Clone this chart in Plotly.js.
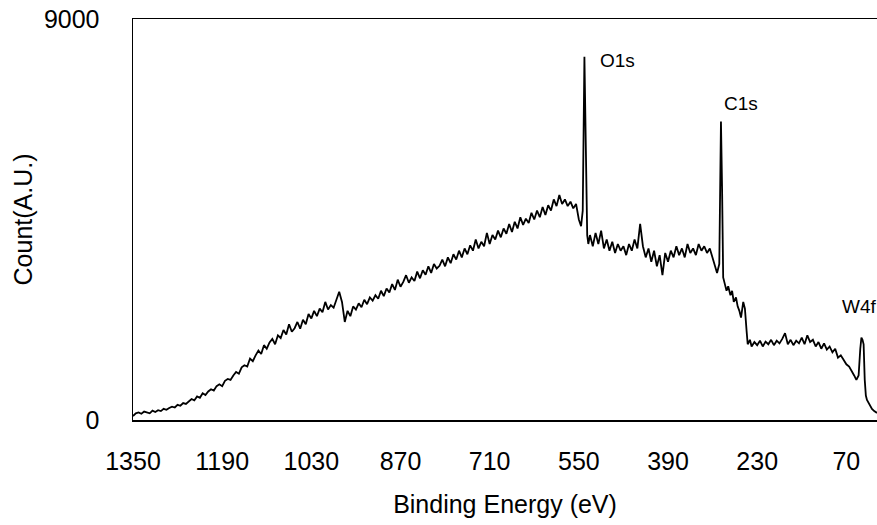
<!DOCTYPE html>
<html>
<head>
<meta charset="utf-8">
<script src="https://cdn.plot.ly/plotly-3.0.1.min.js"></script>
<style>html,body{margin:0;padding:0;background:#fff;}#chart{width:877px;height:525px;}</style>
</head>
<body>
<div id="chart"></div>
<script>
// Binding energy (eV) and counts, by region
const energyA = [1350,1345,1340,1335,1330,1325,1320,1315,1310,1305,1300,1295,1290,1285,1280,1275,1270,1265,1260,1255,1250,1245,1240,1235,1230,1225,1220,1215,1210,1205,1200];
const countsA = [90,150,170,140,190,170,150,210,180,220,200,250,230,270,300,280,340,320,380,360,420,470,440,530,500,600,560,640,690,660,760];

const energyB = [1195,1190,1185,1180,1175,1170,1165,1160,1155,1150,1145,1140,1135,1130,1125,1120,1115,1110,1105,1100,1095,1090,1085,1080,1075,1070,1065,1060,1055,1050,1045,1040,1035,1030,1025,1020,1015,1010,1005,1000];
const countsB = [800,760,880,920,900,1000,1080,1040,1180,1230,1200,1380,1320,1450,1560,1480,1680,1600,1740,1820,1700,1900,1840,2020,1920,2150,1980,2060,2200,2050,2250,2150,2380,2280,2450,2330,2500,2420,2650,2480];

const energyC = [995,990,985,980,975,970,965,960,955,950,945,940,935,930,925,920,915,910,905,900,895,890,885,880,875,870,865,860,855,850,845,840,835,830,825,820,815,810,805,800,795,790,785,780,775,770,765,760,755,750,745,740,735,730,725,720,715,710,705,700,695,690,685,680,675,670,665,660,655,650,645,640,635,630,625,620,615,610,605,600];
const countsC = [2580,2520,2700,2880,2650,2200,2450,2330,2550,2480,2620,2530,2700,2600,2750,2680,2800,2720,2900,2780,2950,2860,3050,2920,3150,2990,3100,3250,3080,3200,3120,3330,3180,3360,3260,3450,3300,3500,3400,3460,3600,3450,3650,3520,3720,3600,3800,3650,3850,3720,3920,3800,4050,3850,4000,3900,4200,3950,4150,4050,4250,4100,4300,4180,4400,4220,4450,4300,4550,4380,4520,4420,4650,4500,4700,4550,4780,4600,4820,4700];

const energyD = [595,590,585,580,575,570,565,560,555,550,546,543,540,537,535];
const countsD = [4950,4800,5050,4850,4950,4800,4900,4750,4850,4500,4350,4700,8150,6200,4150];

const energyE = [533,530,525,520,515,510,505,500,495,490,485,480,475,470,465,460,455,450,445,440,435,430,425,420,415,410,405,400,395,390,385,380,375,370,365,360,355,350,345,340,335,330,325,320,315,310,305,302];
const countsE = [3950,4150,3900,4200,3950,4250,3850,4050,3800,4000,3750,3950,3800,3900,3700,3950,3800,4050,3850,4400,3900,3650,3850,3550,3800,3450,3700,3250,3750,3550,3800,3650,3900,3700,3850,3650,3950,3750,3850,3700,3950,3800,3900,3750,3850,3650,3450,3300];

const energyF = [298,295,293,291,288,285,282,278,275,272,268,265,262,259,255,252,249,247];
const countsF = [3500,6700,5200,3200,3050,2900,3000,2800,2900,2650,2750,2550,2450,2300,2650,2500,2000,1700];

const energyG = [243,240,235,230,225,220,215,210,205,200,195,190,185,180,175,170,165,160,155,150,145,140,135,130,125,120,115,110,105,100,95,90,85,80,75,70,65,60,56,52,48,45,43,41,39,37,35,33,28,24,20,15];
const countsG = [1800,1650,1750,1680,1780,1650,1760,1700,1800,1680,1780,1720,1820,1950,1700,1800,1680,1780,1720,1850,1700,1900,1750,1800,1650,1750,1600,1720,1580,1650,1520,1600,1400,1450,1350,1250,1200,1100,1000,900,1000,1600,1850,1800,1700,900,550,450,330,250,200,160];

const xTicks = [1350,1190,1030,870,710,550,390,230,70];
const yTicks = [0,9000];
const peakLabels = ['O1s','C1s','W4f'];
const peakLabelX = [516,293,82];
const peakLabelY = [8060,7100,2550];

const energy = [].concat(energyA, energyB, energyC, energyD, energyE, energyF, energyG);
const counts = [].concat(countsA, countsB, countsC, countsD, countsE, countsF, countsG);

const FONT = 'Liberation Sans, Arial, sans-serif';

const trace = {
  x: energy, y: counts, type: 'scatter', mode: 'lines',
  line: {color: '#000', width: 1.8}, hoverinfo: 'skip', showlegend: false
};

const annotations = peakLabels.map((t, i) => ({
  x: peakLabelX[i], y: peakLabelY[i], xref: 'x', yref: 'y', text: t,
  showarrow: false, xanchor: 'left', yanchor: 'middle',
  font: {family: FONT, size: 19, color: '#000'}
}));

const layout = {
  width: 877, height: 525,
  margin: {l: 133, r: 0, t: 19, b: 105},
  paper_bgcolor: '#fff', plot_bgcolor: '#fff',
  font: {family: FONT, color: '#000'},
  showlegend: false,
  xaxis: {
    range: [1350, 15], tickmode: 'array', tickvals: xTicks, ticktext: xTicks.map(String),
    showgrid: false, zeroline: false, showline: true, linecolor: '#000', linewidth: 1.5,
    mirror: true, ticks: '', ticklabelstandoff: 18,
    tickfont: {family: FONT, size: 25, color: '#000'},
    title: {text: 'Binding Energy (eV)', font: {family: FONT, size: 25, color: '#000'}, standoff: 22},
    automargin: false
  },
  yaxis: {
    range: [0, 9000], tickmode: 'array', tickvals: yTicks, ticktext: yTicks.map(String),
    showgrid: false, zeroline: false, showline: true, linecolor: '#000', linewidth: 1.5,
    mirror: false, ticks: '', ticklabelstandoff: 27,
    tickfont: {family: FONT, size: 25, color: '#000'},
    title: {text: 'Count(A.U.)', font: {family: FONT, size: 25, color: '#000'}, standoff: 4},
    automargin: false
  },
  annotations: annotations
};

Plotly.newPlot('chart', [trace], layout, {staticPlot: true, displayModeBar: false});
</script>
</body>
</html>
